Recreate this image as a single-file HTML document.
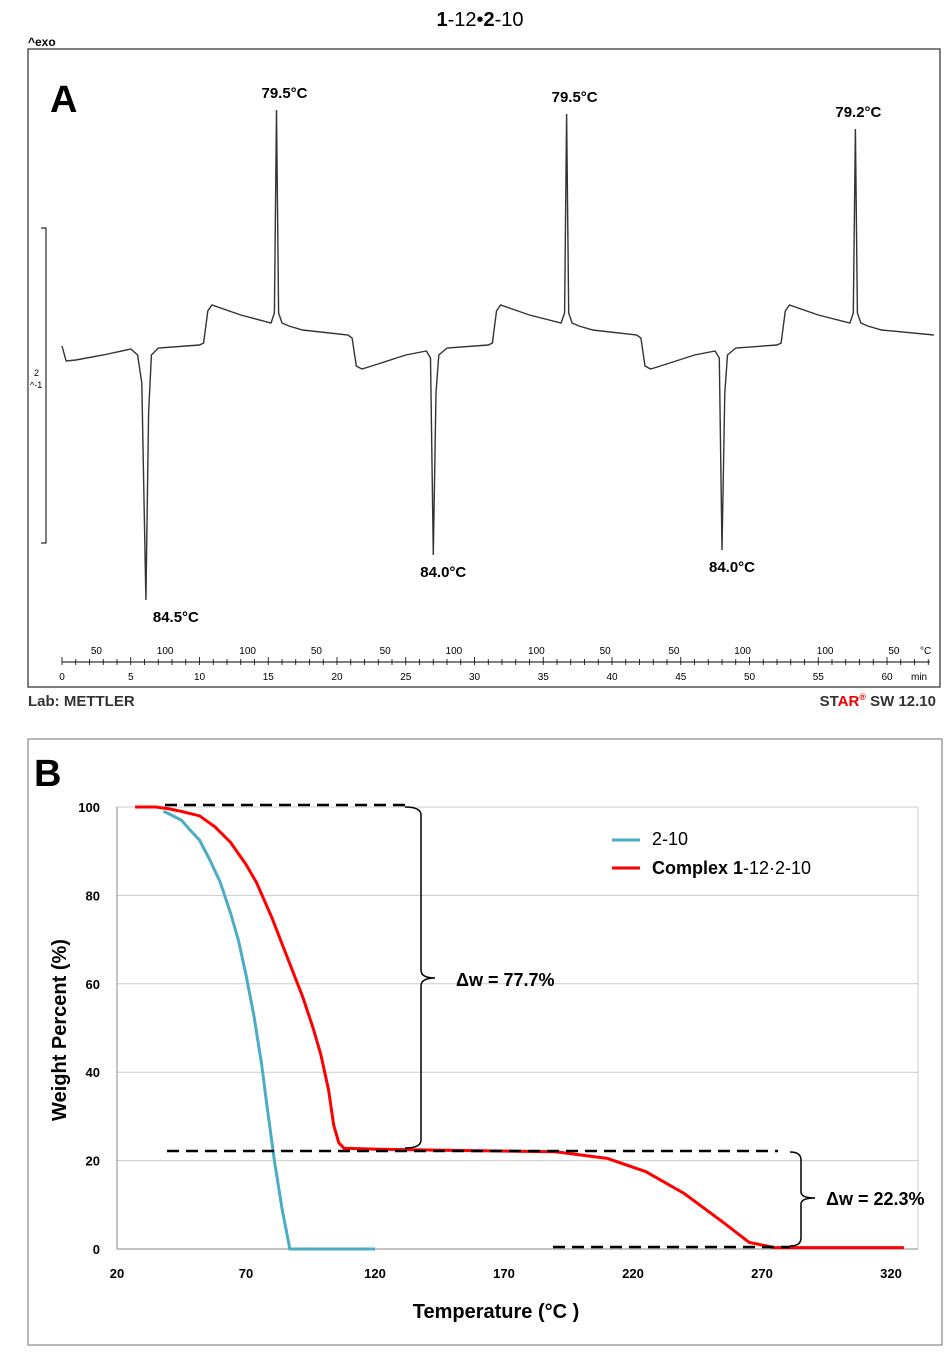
<!DOCTYPE html>
<html><head><meta charset="utf-8"><style>
body{margin:0;background:#fff;width:950px;height:1354px;overflow:hidden;font-family:"Liberation Sans",sans-serif}
svg{position:absolute;left:0;top:0}
</style></head><body>
<svg width="950" height="1354">
<text x="480" y="26" font-size="20" text-anchor="middle"><tspan font-weight="bold">1</tspan>-12•<tspan font-weight="bold">2</tspan>-10</text>
<text x="28" y="46" font-size="12" font-weight="bold">^exo</text>
<rect x="28" y="49" width="912" height="638" fill="none" stroke="#555" stroke-width="1.5"/>
<text x="50" y="112" font-size="38" font-weight="bold">A</text>
<path d="M41,228 H46 V543 H41" fill="none" stroke="#000"/>
<text x="34" y="376" font-size="9">2</text>
<text x="30" y="388" font-size="9">^-1</text>
<g id="dsc"></g>
<g id="axisA"></g>
<text x="28" y="706" font-size="15" font-weight="bold" fill="#333">Lab: METTLER</text>
<text x="936" y="706" font-size="15" font-weight="bold" fill="#333" text-anchor="end">ST<tspan fill="#e00">AR</tspan><tspan fill="#e00" font-size="9" dy="-6">®</tspan><tspan dy="6"> SW 12.10</tspan></text>

<rect x="28" y="739" width="914" height="606" fill="none" stroke="#888" stroke-width="1.2"/>
<text x="34" y="786" font-size="38" font-weight="bold">B</text>
<g id="tga"></g>
</svg>
<script>
const NS='http://www.w3.org/2000/svg';
function mk(p,t,a){const e=document.createElementNS(NS,t);for(const k in a)e.setAttribute(k,a[k]);p.appendChild(e);return e;}
// ---------- Panel A: DSC ----------
const dscTime=[0,0.3,1,3,5,5.5,5.8,6.1,6.3,6.5,7,10,10.3,10.6,10.9,13,15.2,15.45,15.6,15.75,16,16.5,17.5,20.8,21.1,21.4,21.8,22.3,25,26.5,26.8,27,27.2,27.4,28,31,31.3,31.6,31.9,34,36.3,36.55,36.7,36.85,37.1,37.6,38.6,41.8,42.1,42.4,42.8,43.3,46,47.5,47.8,48,48.2,48.4,49,52,52.3,52.6,52.9,55,57.3,57.55,57.7,57.85,58.1,58.6,59.6,63.4];
const dscFlow=[7,-8,-7,-2,4,-2,-30,-247,-60,-2,5,8,10,42,48,38,30,40,243,40,30,27,23,18,15,-13,-16,-14,-2,2,-5,-202,-40,-2,5,8,10,42,48,38,30,40,239,40,30,27,23,18,15,-13,-16,-14,-2,2,-5,-197,-40,-2,5,8,10,42,48,38,30,40,224,40,30,27,23,18];
const peakTimes=[6.1,15.6,27,36.7,48,57.7];
const peakLabels=['84.5°C','79.5°C','84.0°C','79.5°C','84.0°C','79.2°C'];
const minTicks=[0,5,10,15,20,25,30,35,40,45,50,55,60];
const tempTickTimes=[2.5,7.5,13.5,18.5,23.5,28.5,34.5,39.5,44.5,49.5,55.5,60.5];
const tempTickLabels=['50','100','100','50','50','100','100','50','50','100','100','50'];
const xA=t=>62+t*13.75, yA=v=>353-v;
const labelDx=[30,8,10,8,10,3];
const dsc=document.getElementById('dsc');
let d=dscTime.map((t,i)=>(i?'L':'M')+xA(t).toFixed(1)+','+yA(dscFlow[i]).toFixed(1)).join('');
const tr=mk(dsc,'path',{d:d,fill:'none',stroke:'#333','stroke-width':1.4});


peakTimes.forEach((t,i)=>{const idx=dscTime.indexOf(t);const v=dscFlow[idx];const up=v>0;
 const tx=mk(dsc,'text',{x:xA(t)+labelDx[i],y:up?yA(v)-12:yA(v)+22,'font-size':15,'font-weight':'bold','text-anchor':'middle'});
 tx.textContent=peakLabels[i];
 
 });
const ax=document.getElementById('axisA');
mk(ax,'line',{x1:62,y1:662,x2:930,y2:662,stroke:'#000'});
for(let t=0;t<=63;t+=1){mk(ax,'line',{x1:xA(t),y1:t%5?659:657,x2:xA(t),y2:665,stroke:'#000','stroke-width':0.8});}
minTicks.forEach(t=>{const e=mk(ax,'text',{x:xA(t),y:680,'font-size':10,'text-anchor':'middle'});e.textContent=t;
 
 });
tempTickTimes.forEach((t,i)=>{const e=mk(ax,'text',{x:xA(t),y:654,'font-size':10,'text-anchor':'middle'});e.textContent=tempTickLabels[i];
 
 });
mk(ax,'text',{x:920,y:654,'font-size':10}).textContent='°C';
mk(ax,'text',{x:911,y:680,'font-size':10}).textContent='min';
// ---------- Panel B: TGA ----------
const xTicks=[20,70,120,170,220,270,320];
const yTicks=[0,20,40,60,80,100];
const blueT=[38,40,45,48,52,56,60,64,67,70,73,76,78,81,84,87,90,120];
const blueW=[99,98.5,97,95,92.5,88,83,76,70,62,53,42,33,20,9,0,0,0];
const redT=[27,35,40,45,52,58,64,70,74,77,80,84,88,92,96,99,102,104,106,108,120,150,190,210,225,240,255,265,275,325];
const redW=[100,100,99.6,99,98,95.5,92,87,83,79,75,69,63,57,50,44,36,28,24,22.8,22.6,22.3,22,20.5,17.5,12.5,6,1.5,0.3,0.3];
const xB=t=>117+(t-20)*2.58, yB=w=>1249-w*4.42;
const g=document.getElementById('tga');
yTicks.forEach(w=>{mk(g,'line',{x1:117,y1:yB(w),x2:918,y2:yB(w),stroke:'#ccc'});
 const e=mk(g,'text',{x:100,y:yB(w)+5,'font-size':13,'font-weight':'bold','text-anchor':'end'});e.textContent=w;
 
 });
mk(g,'line',{x1:117,y1:yB(100),x2:117,y2:1249,stroke:'#888'});
mk(g,'line',{x1:918,y1:yB(100),x2:918,y2:1249,stroke:'#ccc'});
mk(g,'line',{x1:117,y1:1249,x2:918,y2:1249,stroke:'#888'});
xTicks.forEach(t=>{const e=mk(g,'text',{x:xB(t),y:1278,'font-size':13,'font-weight':'bold','text-anchor':'middle'});e.textContent=t;
 
 });
const pb=mk(g,'path',{d:blueT.map((t,i)=>(i?'L':'M')+xB(t)+','+yB(blueW[i])).join(''),fill:'none',stroke:'#4bacc6','stroke-width':3});


const pr=mk(g,'path',{d:redT.map((t,i)=>(i?'L':'M')+xB(t)+','+yB(redW[i])).join(''),fill:'none',stroke:'#f00','stroke-width':3});


const dash={stroke:'#000','stroke-width':2.5,'stroke-dasharray':'12,7',fill:'none'};
mk(g,'line',Object.assign({x1:165,y1:805,x2:405,y2:805},dash));
mk(g,'line',Object.assign({x1:167,y1:1151,x2:778,y2:1151},dash));
mk(g,'line',Object.assign({x1:553,y1:1247,x2:790,y2:1247},dash));
mk(g,'path',{d:'M405,807 Q421,807 421,815 V970 Q421,978 435,978 Q421,978 421,986 V1140 Q421,1148 405,1148',fill:'none',stroke:'#000','stroke-width':1.5});
mk(g,'path',{d:'M790,1152 Q801,1152 801,1160 V1192 Q801,1198 815,1198 Q801,1198 801,1204 V1238 Q801,1246 790,1246',fill:'none',stroke:'#000','stroke-width':1.5});
let e=mk(g,'text',{x:456,y:986,'font-size':18,'font-weight':'bold'});e.textContent='Δw = 77.7%';


e=mk(g,'text',{x:826,y:1205,'font-size':18,'font-weight':'bold'});e.textContent='Δw = 22.3%';


mk(g,'line',{x1:612,y1:840,x2:640,y2:840,stroke:'#4bacc6','stroke-width':3});
e=mk(g,'text',{x:652,y:845,'font-size':18});e.textContent='2-10';


mk(g,'line',{x1:612,y1:868,x2:640,y2:868,stroke:'#f00','stroke-width':3});
e=mk(g,'text',{x:652,y:874,'font-size':18,'font-weight':'bold'});e.innerHTML='Complex 1<tspan font-weight="normal">-12·2-10</tspan>';


e=mk(g,'text',{x:496,y:1318,'font-size':20,'font-weight':'bold','text-anchor':'middle'});e.textContent='Temperature (°C )';


e=mk(g,'text',{x:66,y:1030,'font-size':20,'font-weight':'bold','text-anchor':'middle',transform:'rotate(-90 66 1030)'});e.textContent='Weight Percent (%)';


</script>
</body></html>
